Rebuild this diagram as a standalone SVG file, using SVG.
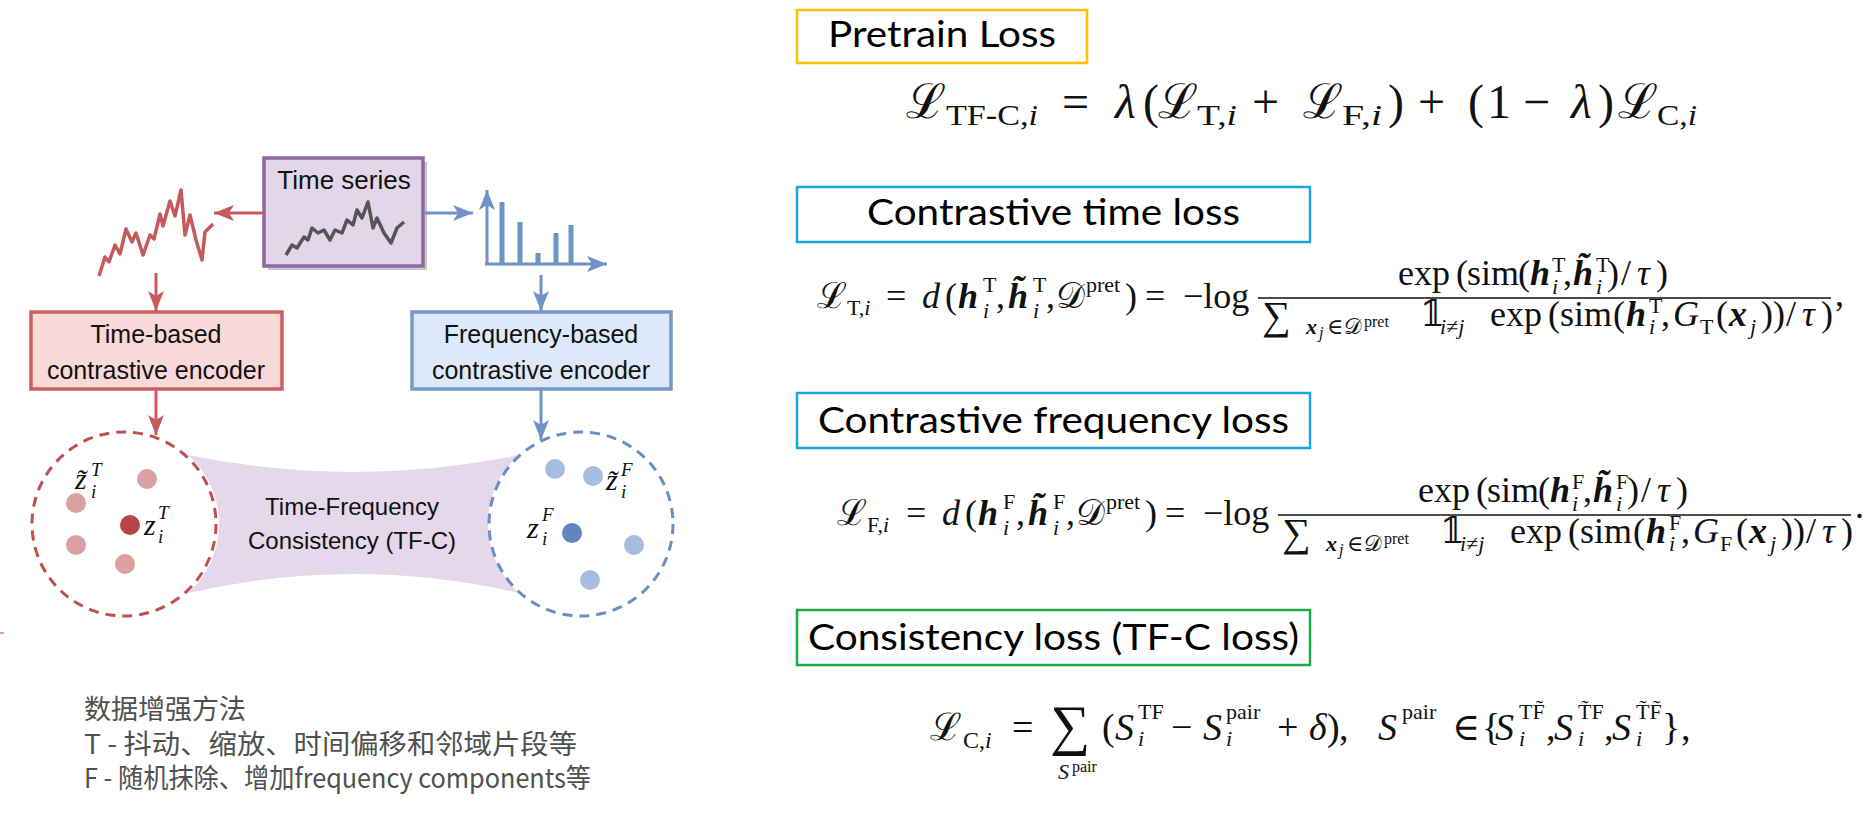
<svg xmlns="http://www.w3.org/2000/svg" width="1866" height="813" viewBox="0 0 1866 813">
<style>
.sans{font-family:"Liberation Sans",Arial,sans-serif;fill:#111}
.ttl{font-family:Lato,"Open Sans",sans-serif;fill:#000;font-size:36px}
.m{font-family:"Liberation Serif","DejaVu Serif",serif;fill:#111}
.it{font-style:italic}
.bi{font-style:italic;font-weight:bold}
.cjk{font-family:"Noto Sans CJK SC","Noto Sans",sans-serif;fill:#505050;font-size:27px}
.rl{stroke:#c55a5a;stroke-width:3;fill:none}
.bl{stroke:#6f93c6;stroke-width:3;fill:none}
.frac{stroke:#111;stroke-width:1.6}
</style>
<defs>
<marker id="ar" markerUnits="userSpaceOnUse" markerWidth="22" markerHeight="18" refX="20" refY="9" orient="auto"><path d="M0,1 L20,9 L0,17 L5,9 z" fill="#c55a5a"/></marker>
<marker id="ab" markerUnits="userSpaceOnUse" markerWidth="22" markerHeight="18" refX="20" refY="9" orient="auto"><path d="M0,1 L20,9 L0,17 L5,9 z" fill="#6f93c6"/></marker>
</defs>
<rect width="1866" height="813" fill="#fff"/>

<path id="band" d="M188,455 Q355,489 519,455 A92 92 0 0 0 519,593 Q355,555 188,593 A92 92 0 0 0 188,455 Z" fill="#e4d8ea"/>

<g id="time-series">
<rect x="268" y="162" width="159" height="108" fill="#c8c8c8"/>
<rect x="264" y="158" width="159" height="108" fill="#e3d6e9" stroke="#8d6aa3" stroke-width="3.5"/>
<text class="sans" x="344" y="189" font-size="26" text-anchor="middle">Time series</text>
<polyline points="286,255 292,245 297,248 304,237 308,240 312,228 318,233 324,230 330,240 335,230 342,233 347,220 353,225 357,210 362,218 368,202 373,228 377,218 384,233 391,243 397,228 404,222" fill="none" stroke="#555" stroke-width="3.5" stroke-linejoin="round"/>
</g>

<g id="time-signal">
<polyline points="99,276 105,257 109,262 115,245 120,254 126,229 132,242 136,233 143,255 150,235 154,239 160,214 163,226 170,201 175,216 181,190 185,235 190,215 196,240 202,260 205,232 213,224" fill="none" stroke="#c55a5a" stroke-width="3.5" stroke-linejoin="round"/>
</g>

<g id="freq-spectrum">
<line x1="487" y1="265" x2="487" y2="190" class="bl" stroke-width="4" marker-end="url(#ab)"/>
<line x1="485" y1="264" x2="607" y2="264" class="bl" stroke-width="4" marker-end="url(#ab)"/>
<g stroke="#6f93c6" stroke-width="5">
<line x1="502" y1="264" x2="502" y2="202"/>
<line x1="520" y1="264" x2="520" y2="222"/>
<line x1="538" y1="264" x2="538" y2="253"/>
<line x1="556" y1="264" x2="556" y2="233"/>
<line x1="571" y1="264" x2="571" y2="225"/>
</g>
</g>

<g id="time-encoder">
<rect x="31" y="312" width="251" height="77" fill="#f9d8d8" stroke="#c9605f" stroke-width="3.5"/>
<text class="sans" x="156" y="343" font-size="25" text-anchor="middle">Time-based</text>
<text class="sans" x="156" y="379" font-size="25" text-anchor="middle">contrastive encoder</text>
</g>

<g id="freq-encoder">
<rect x="412" y="312" width="259" height="77" fill="#dde8f8" stroke="#7699ca" stroke-width="3.5"/>
<text class="sans" x="541" y="343" font-size="25" text-anchor="middle">Frequency-based</text>
<text class="sans" x="541" y="379" font-size="25" text-anchor="middle">contrastive encoder</text>
</g>

<g id="time-space">
<circle cx="124" cy="524" r="92" fill="none" stroke="#c0504d" stroke-width="3" stroke-dasharray="10 7"/>
<g fill="#dca0a0">
<circle cx="147" cy="479" r="10"/><circle cx="76" cy="503" r="10"/><circle cx="76" cy="545" r="10"/><circle cx="125" cy="564" r="10"/>
</g>
<circle cx="130" cy="525" r="10" fill="#b94646"/>
<text class="m it" x="75" y="489" font-size="30">z&#x303;</text>
<text class="m it" x="91" y="476" font-size="19">T</text>
<text class="m it" x="91" y="498" font-size="19">i</text>
<text class="m it" x="144" y="535" font-size="30">z</text>
<text class="m it" x="158" y="519" font-size="19">T</text>
<text class="m it" x="158" y="543" font-size="19">i</text>
</g>

<g id="freq-space">
<circle cx="581" cy="524" r="92" fill="none" stroke="#6a8fc4" stroke-width="3" stroke-dasharray="10 7"/>
<g fill="#a7bddf">
<circle cx="555" cy="469" r="10"/><circle cx="593" cy="476" r="10"/><circle cx="634" cy="545" r="10"/><circle cx="590" cy="580" r="10"/>
</g>
<circle cx="572" cy="533" r="10" fill="#5f86bd"/>
<text class="m it" x="606" y="490" font-size="30">z&#x303;</text>
<text class="m it" x="621" y="476" font-size="19">F</text>
<text class="m it" x="621" y="498" font-size="19">i</text>
<text class="m it" x="527" y="538" font-size="30">z</text>
<text class="m it" x="542" y="521" font-size="19">F</text>
<text class="m it" x="542" y="545" font-size="19">i</text>
</g>

<g id="tfc-label">
<text class="sans" x="352" y="515" font-size="24" text-anchor="middle">Time-Frequency</text>
<text class="sans" x="352" y="549" font-size="24" text-anchor="middle">Consistency (TF-C)</text>
</g>

<g id="connectors">
<line x1="264" y1="213" x2="214" y2="213" class="rl" marker-end="url(#ar)"/>
<line x1="424" y1="213" x2="473" y2="213" class="bl" marker-end="url(#ab)"/>
<line x1="156" y1="273" x2="156" y2="311" class="rl" marker-end="url(#ar)"/>
<line x1="541" y1="275" x2="541" y2="311" class="bl" marker-end="url(#ab)"/>
<line x1="156" y1="390" x2="156" y2="435" class="rl" marker-end="url(#ar)"/>
<line x1="541" y1="390" x2="541" y2="440" class="bl" marker-end="url(#ab)"/>
</g>

<line x1="0" y1="633" x2="4" y2="633" stroke="#d04040" stroke-width="1"/>

<g id="augment-notes">
<text class="cjk" x="84" y="719">数据增强方法</text>
<text class="cjk" x="84" y="754" textLength="493" lengthAdjust="spacingAndGlyphs">T - 抖动、缩放、时间偏移和邻域片段等</text>
<text class="cjk" x="84" y="788" textLength="507" lengthAdjust="spacingAndGlyphs">F - 随机抹除、增加frequency components等</text>
</g>

<!-- Right side -->
<g id="pretrain-title">
<rect x="797" y="10" width="290" height="53" fill="#fff" stroke="#ffc000" stroke-width="2.5"/>
<text class="ttl" x="828" y="47" textLength="228" lengthAdjust="spacingAndGlyphs">Pretrain Loss</text>
</g>
<g id="pretrain-formula" class="m">
<text font-size="48" y="118"><tspan x="906">ℒ</tspan><tspan x="1062">=</tspan><tspan x="1115" class="it">λ</tspan><tspan x="1143">(</tspan><tspan x="1158">ℒ</tspan><tspan x="1252">+</tspan><tspan x="1303">ℒ</tspan><tspan x="1388">)</tspan><tspan x="1418">+</tspan><tspan x="1468">(</tspan><tspan x="1487">1</tspan><tspan x="1523">−</tspan><tspan x="1571" class="it">λ</tspan><tspan x="1598">)</tspan><tspan x="1618">ℒ</tspan></text>
<text font-size="30" y="125" x="946" textLength="92" lengthAdjust="spacingAndGlyphs">TF-C,<tspan class="it">i</tspan></text>
<text font-size="30" y="125" x="1197" textLength="40" lengthAdjust="spacingAndGlyphs">T,<tspan class="it">i</tspan></text>
<text font-size="30" y="125" x="1342" textLength="40" lengthAdjust="spacingAndGlyphs">F,<tspan class="it">i</tspan></text>
<text font-size="30" y="125" x="1657" textLength="40" lengthAdjust="spacingAndGlyphs">C,<tspan class="it">i</tspan></text>
</g>

<g id="time-title">
<rect x="797" y="187" width="513" height="55" fill="#fff" stroke="#1aa7e0" stroke-width="2.5"/>
<text class="ttl" x="867" y="225" textLength="373" lengthAdjust="spacingAndGlyphs">Contrastive time loss</text>
</g>
<g id="time-formula" class="m">
<text font-size="36" y="308"><tspan x="817">ℒ</tspan><tspan x="886">=</tspan><tspan x="922" class="it">d</tspan><tspan x="945">(</tspan><tspan x="958" class="bi">h</tspan><tspan x="996">,</tspan><tspan x="1008" class="bi">h&#x303;</tspan><tspan x="1046">,</tspan><tspan x="1056">𝒟</tspan><tspan x="1125">)</tspan><tspan x="1145">=</tspan><tspan x="1183">−log</tspan></text>
<text font-size="22" y="315"><tspan x="847">T,</tspan><tspan class="it">i</tspan></text>
<text font-size="22" y="292"><tspan x="983">T</tspan><tspan x="1033">T</tspan><tspan x="1086">pret</tspan></text>
<text font-size="22" y="318" class="it"><tspan x="983">i</tspan><tspan x="1033">i</tspan></text>
<line x1="1258" y1="298" x2="1831" y2="298" class="frac"/>
<text font-size="36" y="285"><tspan x="1398">exp</tspan><tspan x="1456">(</tspan><tspan x="1467">sim</tspan><tspan x="1518">(</tspan><tspan x="1530" class="bi">h</tspan><tspan x="1563">,</tspan><tspan x="1573" class="bi">h&#x303;</tspan><tspan x="1607">)</tspan><tspan x="1621">/</tspan><tspan x="1637" class="it">τ</tspan><tspan x="1656">)</tspan></text>
<text font-size="22" y="272"><tspan x="1552">T</tspan><tspan x="1596">T</tspan></text>
<text font-size="22" y="294" class="it"><tspan x="1552">i</tspan><tspan x="1596">i</tspan></text>
<text font-size="40" y="329"><tspan x="1262">∑</tspan></text>
<text font-size="22" y="334"><tspan x="1306" class="bi">x</tspan><tspan x="1319" font-size="16" y="338" class="it">j</tspan><tspan x="1327" y="334">∈</tspan><tspan x="1344">𝒟</tspan><tspan x="1364" font-size="16" y="327">pret</tspan></text>
<text font-size="36" y="326"><tspan x="1420">𝟙</tspan><tspan x="1490">exp</tspan><tspan x="1548">(</tspan><tspan x="1560">sim</tspan><tspan x="1613">(</tspan><tspan x="1626" class="bi">h</tspan><tspan x="1661">,</tspan><tspan x="1673" class="it">G</tspan><tspan x="1716">(</tspan><tspan x="1729" class="bi">x</tspan><tspan x="1761">)</tspan><tspan x="1773">)</tspan><tspan x="1786">/</tspan><tspan x="1802" class="it">τ</tspan><tspan x="1821">)</tspan></text>
<text font-size="36" y="306"><tspan x="1835">,</tspan></text>
<text font-size="22" y="334"><tspan x="1440" class="it">i</tspan><tspan>≠</tspan><tspan class="it">j</tspan><tspan x="1649" class="it">i</tspan><tspan x="1700">T</tspan><tspan x="1750" class="it">j</tspan></text>
<text font-size="22" y="313"><tspan x="1649">T</tspan></text>
</g>

<g id="freq-title">
<rect x="797" y="393" width="513" height="55" fill="#fff" stroke="#1aa7e0" stroke-width="2.5"/>
<text class="ttl" x="818" y="433" textLength="471" lengthAdjust="spacingAndGlyphs">Contrastive frequency loss</text>
</g>
<g id="freq-formula" class="m" transform="translate(20,217)">
<text font-size="36" y="308"><tspan x="817">ℒ</tspan><tspan x="886">=</tspan><tspan x="922" class="it">d</tspan><tspan x="945">(</tspan><tspan x="958" class="bi">h</tspan><tspan x="996">,</tspan><tspan x="1008" class="bi">h&#x303;</tspan><tspan x="1046">,</tspan><tspan x="1056">𝒟</tspan><tspan x="1125">)</tspan><tspan x="1145">=</tspan><tspan x="1183">−log</tspan></text>
<text font-size="22" y="315"><tspan x="847">F,</tspan><tspan class="it">i</tspan></text>
<text font-size="22" y="292"><tspan x="983">F</tspan><tspan x="1033">F</tspan><tspan x="1086">pret</tspan></text>
<text font-size="22" y="318" class="it"><tspan x="983">i</tspan><tspan x="1033">i</tspan></text>
<line x1="1258" y1="298" x2="1831" y2="298" class="frac"/>
<text font-size="36" y="285"><tspan x="1398">exp</tspan><tspan x="1456">(</tspan><tspan x="1467">sim</tspan><tspan x="1518">(</tspan><tspan x="1530" class="bi">h</tspan><tspan x="1563">,</tspan><tspan x="1573" class="bi">h&#x303;</tspan><tspan x="1607">)</tspan><tspan x="1621">/</tspan><tspan x="1637" class="it">τ</tspan><tspan x="1656">)</tspan></text>
<text font-size="22" y="272"><tspan x="1552">F</tspan><tspan x="1596">F</tspan></text>
<text font-size="22" y="294" class="it"><tspan x="1552">i</tspan><tspan x="1596">i</tspan></text>
<text font-size="40" y="329"><tspan x="1262">∑</tspan></text>
<text font-size="22" y="334"><tspan x="1306" class="bi">x</tspan><tspan x="1319" font-size="16" y="338" class="it">j</tspan><tspan x="1327" y="334">∈</tspan><tspan x="1344">𝒟</tspan><tspan x="1364" font-size="16" y="327">pret</tspan></text>
<text font-size="36" y="326"><tspan x="1420">𝟙</tspan><tspan x="1490">exp</tspan><tspan x="1548">(</tspan><tspan x="1560">sim</tspan><tspan x="1613">(</tspan><tspan x="1626" class="bi">h</tspan><tspan x="1661">,</tspan><tspan x="1673" class="it">G</tspan><tspan x="1716">(</tspan><tspan x="1729" class="bi">x</tspan><tspan x="1761">)</tspan><tspan x="1773">)</tspan><tspan x="1786">/</tspan><tspan x="1802" class="it">τ</tspan><tspan x="1821">)</tspan></text>
<text font-size="36" y="301"><tspan x="1835">.</tspan></text>
<text font-size="22" y="334"><tspan x="1440" class="it">i</tspan><tspan>≠</tspan><tspan class="it">j</tspan><tspan x="1649" class="it">i</tspan><tspan x="1700">F</tspan><tspan x="1750" class="it">j</tspan></text>
<text font-size="22" y="313"><tspan x="1649">F</tspan></text>
</g>

<g id="consistency-title">
<rect x="797" y="610" width="513" height="55" fill="#fff" stroke="#1eaa4a" stroke-width="2.5"/>
<text class="ttl" x="808" y="650" textLength="491" lengthAdjust="spacingAndGlyphs">Consistency loss (TF-C loss)</text>
</g>
<g id="consistency-formula" class="m">
<text font-size="38" y="740"><tspan x="930">ℒ</tspan><tspan x="1012">=</tspan><tspan x="1102">(</tspan><tspan x="1115" class="it">S</tspan><tspan x="1171">−</tspan><tspan x="1203" class="it">S</tspan><tspan x="1277">+</tspan><tspan x="1309" class="it">δ</tspan><tspan x="1327">)</tspan><tspan x="1339">,</tspan><tspan x="1378" class="it">S</tspan><tspan x="1452">∈</tspan><tspan x="1482">{</tspan><tspan x="1495" class="it">S</tspan><tspan x="1546">,</tspan><tspan x="1554" class="it">S</tspan><tspan x="1604">,</tspan><tspan x="1612" class="it">S</tspan><tspan x="1662">}</tspan><tspan x="1681">,</tspan></text>
<text font-size="24" y="748"><tspan x="963">C,</tspan><tspan class="it">i</tspan></text>
<text font-size="56" y="744"><tspan x="1050">∑</tspan></text>
<text font-size="22" y="779"><tspan x="1058" class="it">S</tspan><tspan x="1072" font-size="16" y="772">pair</tspan></text>
<text font-size="22" y="719"><tspan x="1138">TF</tspan><tspan x="1226">pair</tspan><tspan x="1402">pair</tspan><tspan x="1519">TF&#x303;</tspan><tspan x="1578">T&#x303;F</tspan><tspan x="1636">T&#x303;F&#x303;</tspan></text>
<text font-size="22" y="746" class="it"><tspan x="1138">i</tspan><tspan x="1226">i</tspan><tspan x="1519">i</tspan><tspan x="1578">i</tspan><tspan x="1636">i</tspan></text>
</g>
</svg>
